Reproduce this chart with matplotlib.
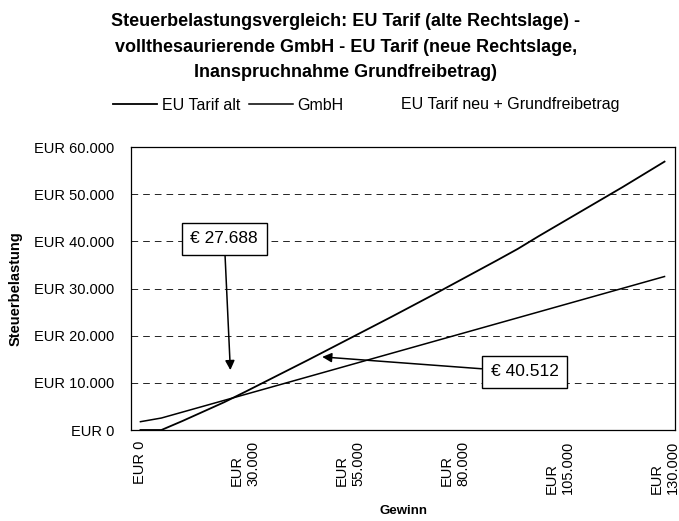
import numpy as np
import matplotlib
matplotlib.use("Agg")
import matplotlib.pyplot as plt
from matplotlib.lines import Line2D

plt.rcParams['font.family'] = ['Liberation Sans', 'DejaVu Sans']

# Gewinn-Kategorien (x) und Steuerbelastung je Variante (y)
gewinn = [0, 10000, 15000, 20000, 25000, 30000, 35000, 40000, 45000, 50000,
          55000, 60000, 65000, 70000, 75000, 80000, 85000, 90000, 95000, 100000,
          105000, 110000, 115000, 120000, 125000, 130000]
eu_tarif_alt = [0, 0, 1900, 3900, 5900, 8100, 10350, 12600, 14850, 17150,
                19450, 21750, 24050, 26400, 28750, 31150, 33550, 35950, 38400, 41100,
                43700, 46300, 48900, 51500, 54200, 56900]
gmbh = [1760, 2540, 3790, 5040, 6290, 7540, 8790, 10040, 11290, 12540,
        13790, 15040, 16290, 17540, 18790, 20040, 21290, 22540, 23790, 25040,
        26290, 27540, 28790, 30040, 31290, 32540]
series_names = ['EU Tarif alt', 'GmbH', 'EU Tarif neu + Grundfreibetrag']
y_ticks = [0, 10000, 20000, 30000, 40000, 50000, 60000]
label_every = 5

def eur(v):
    return 'EUR ' + f'{v:,.0f}'.replace(',', '.')

fig = plt.figure(figsize=(6.79, 5.21), dpi=100)
ax = fig.add_axes([131/679, 91/521, 544/679, 283/521])

x = np.arange(len(gewinn))
ax.plot(x, eu_tarif_alt, color='black', lw=1.3)
ax.plot(x, gmbh, color='black', lw=1.1)

ax.set_xlim(-0.45, 25.5)
ax.set_ylim(0, 60000)
ax.set_yticks(y_ticks)
ax.set_yticklabels([eur(v) for v in y_ticks], fontsize=10.5)
xt = x[::label_every]
ax.set_xticks(xt)
xl = []
for i in xt:
    xl.append(eur(gewinn[i]) if gewinn[i] == 0 else eur(gewinn[i]).replace(' ', '\n'))
ax.set_xticklabels(xl, rotation=90, fontsize=10.5, ha='center', va='top',
                   multialignment='left')
ax.tick_params(length=0)
ax.tick_params(axis='y', pad=12)
ax.tick_params(axis='x', pad=8)

ax.grid(axis='y', color='black', ls=(0, (8, 6)), lw=0.6)
for s in ax.spines.values():
    s.set_color('black')
    s.set_linewidth(0.9)

ax.set_ylabel('Steuerbelastung', fontsize=10.5, fontweight='bold', labelpad=8)
ax.set_xlabel('Gewinn', fontsize=9.5, fontweight='bold', labelpad=8)

box = dict(boxstyle='square,pad=0.5', fc='white', ec='black', lw=1)
arrow = dict(arrowstyle='-|>', color='black', lw=1.1, mutation_scale=14, shrinkA=0, shrinkB=0)
ax.annotate('€ 27.688', xy=(4.29, 12700), xytext=(4.0, 40500), fontsize=12.5,
            ha='center', va='center', bbox=box, arrowprops=arrow)
ax.annotate('€ 40.512', xy=(8.67, 15500), xytext=(18.33, 12300), fontsize=12.5,
            ha='center', va='center', bbox=box, arrowprops=arrow)

handles = [Line2D([], [], color='black', lw=1.3),
           Line2D([], [], color='black', lw=1.1),
           Line2D([], [], color='white', lw=1.1)]
fig.legend(handles, series_names, loc='center left', bbox_to_anchor=(113/679, 1 - 105/521),
           ncol=3, frameon=False, fontsize=11.5, handlelength=2.75, handletextpad=0.3,
           columnspacing=0.55, borderpad=0, borderaxespad=0)

title = ('Steuerbelastungsvergleich: EU Tarif (alte Rechtslage) -\n'
         'vollthesaurierende GmbH - EU Tarif (neue Rechtslage,\n'
         'Inanspruchnahme Grundfreibetrag)')
fig.text(346/679, 1 - 47/521, title, ha='center', va='center', fontsize=13,
         fontweight='bold', linespacing=1.65)

fig.savefig('out.png', dpi=100)
